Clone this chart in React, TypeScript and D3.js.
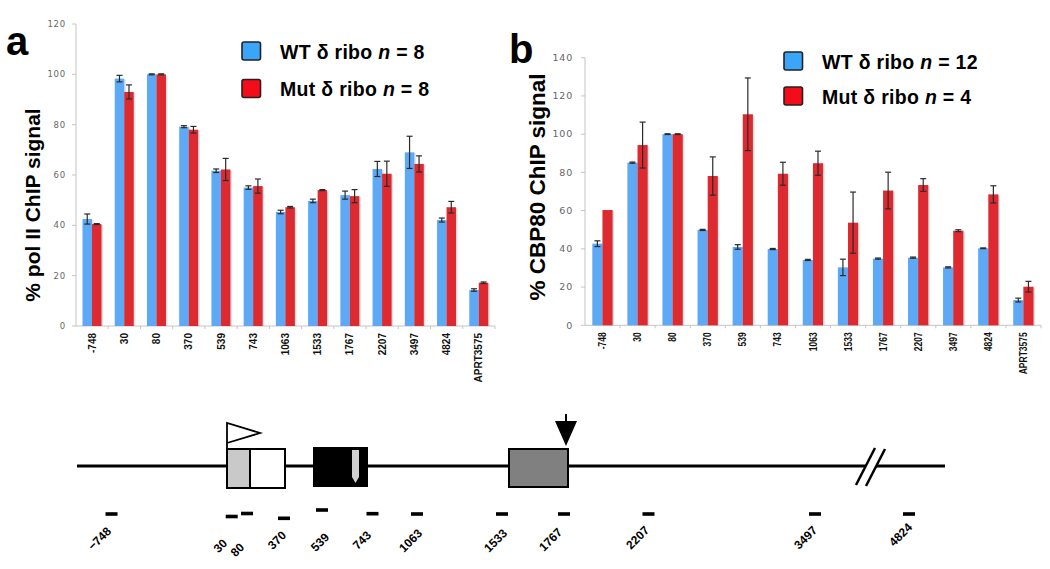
import React from 'react';
import * as d3 from 'd3';

const categories = ['-748', '30', '80', '370', '539', '743', '1063', '1533', '1767', '2207', '3497', '4824', 'APRT3575'];
const polWT = [42.5, 98.3, 100, 79.2, 61.7, 55, 45.3, 49.7, 52, 62.4, 69, 42.1, 14.3];
const polWTErr = [2, 1.3, 0.2, 0.4, 0.7, 0.7, 0.7, 0.7, 1.6, 3, 6.4, 0.8, 0.5];
const polMut = [40.5, 93, 100, 78, 62.2, 55.6, 47.2, 54, 51.6, 60.5, 64.4, 47.2, 17.2];
const polMutErr = [0.2, 2.8, 0.2, 1.3, 4.4, 2.8, 0.3, 0.2, 2.6, 5, 3.2, 2.3, 0.3];
const cbpWT = [42.7, 85.1, 100, 49.9, 41, 39.9, 34.2, 30.3, 34.9, 35.4, 30.3, 40.3, 13.2];
const cbpWTErr = [1.5, 0.3, 0.2, 0.3, 1.2, 0.3, 0.3, 4.3, 0.3, 0.3, 0.3, 0.2, 1];
const cbpMut = [60.3, 94.3, 100, 78.1, 110.4, 79.3, 84.8, 53.7, 70.5, 73.4, 49.5, 68.5, 20.2];
const cbpMutErr = [0, 12, 0.2, 10, 19, 6, 6.3, 16, 9.6, 3.3, 0.5, 4.5, 2.8];
const polTicks = [0, 20, 40, 60, 80, 100, 120];
const cbpTicks = [0, 20, 40, 60, 80, 100, 120, 140];
const polLegend = ['8', '8'];
const cbpLegend = ['12', '4'];
const primerLabels = ['\u2212748', '30', '80', '370', '539', '743', '1063', '1533', '1767', '2207', '3497', '4824'];

const BAR_BLUE = '#5ea9f6';
const BAR_RED = '#dc2a30';
const LEG_BLUE = '#3ba6f8';
const LEG_RED = '#f40d18';
const BOLD = '"Liberation Sans", Arial, sans-serif';

type PanelProps = {
  x0: number; x1: number; yBase: number; yTop: number; max: number; ticks: number[];
  wt: number[]; wtErr: number[]; mut: number[]; mutErr: number[];
  innerStart: number; innerEnd: number; tickFont: number; tickGap: number;
  labelFont: string; labelSize: number; labelStretch: number;
  title: string; titleSize: number; titleX: number; titleY: number;
  letter: string; letterX: number; letterY: number;
  legN: string[]; legX: number; legY: number; legGap: number;
};

function Panel(p: PanelProps) {
  const x = d3.scaleBand<string>().domain(categories).range([p.x0, p.x1]).padding(0);
  const inner = d3.scaleBand<string>().domain(['wt', 'mut']).range([p.innerStart, p.innerEnd]).padding(0);
  const y = d3.scaleLinear().domain([0, p.max]).range([p.yBase, p.yTop]);
  const bw = inner.bandwidth();
  const series = [
    { key: 'wt', vals: p.wt, errs: p.wtErr, color: BAR_BLUE },
    { key: 'mut', vals: p.mut, errs: p.mutErr, color: BAR_RED },
  ];
  return (
    <g>
      <line x1={p.x0} x2={p.x0} y1={y(0)} y2={y(p.max)} stroke="#c4c4c4" strokeWidth={1} />
      {p.ticks.map((t) => (
        <g key={t}>
          <line x1={p.x0 - 4} x2={p.x0} y1={y(t)} y2={y(t)} stroke="#c4c4c4" strokeWidth={1} />
          <text x={p.x0 - p.tickGap} y={y(t)} dy="0.35em" textAnchor="end" fontSize={p.tickFont}
            fontFamily='"DejaVu Sans", Verdana, sans-serif' fill="#666" letterSpacing={0.8}>{t}</text>
        </g>
      ))}
      <line x1={p.x0} x2={p.x1} y1={y(0)} y2={y(0)} stroke="#c4c4c4" strokeWidth={1} />
      {categories.map((c, i) => (
        <line key={'t' + i} x1={(x(c) as number) + x.bandwidth()} x2={(x(c) as number) + x.bandwidth()}
          y1={y(0)} y2={y(0) + 3} stroke="#c4c4c4" strokeWidth={1} />
      ))}
      {series.map((s) => (
        <g key={s.key}>
          {categories.map((c, i) => {
            const bx = (x(c) as number) + (inner(s.key) as number);
            const v = s.vals[i];
            return (
              <g key={c}>
                <rect x={bx + 1.5} y={y(v) + 1} width={bw} height={y(0) - y(v) - 1} fill="#888" opacity={0.25} />
                <rect x={bx} y={y(v)} width={bw} height={y(0) - y(v)} fill={s.color} />
              </g>
            );
          })}
        </g>
      ))}
      {series.map((s) => (
        <g key={'e' + s.key}>
          {categories.map((c, i) => {
            const e = s.errs[i];
            if (e <= 0) return null;
            const cx = (x(c) as number) + (inner(s.key) as number) + bw / 2;
            const v = s.vals[i];
            return (
              <g key={c} stroke="#2a2a2a" strokeWidth={1.2}>
                <line x1={cx} x2={cx} y1={y(v + e)} y2={y(v - e)} />
                <line x1={cx - 3} x2={cx + 3} y1={y(v + e)} y2={y(v + e)} />
                <line x1={cx - 3} x2={cx + 3} y1={y(v - e)} y2={y(v - e)} />
              </g>
            );
          })}
        </g>
      ))}
      {categories.map((c, i) => {
        const cx = (x(c) as number) + x.bandwidth() / 2 + 3.5;
        const ly = y(0) + 7;
        return (
          <text key={'l' + i} x={0} y={0}
            transform={`translate(${cx} ${ly}) rotate(-90) scale(${p.labelStretch} 1)`} textAnchor="end"
            fontSize={p.labelSize} fontWeight="bold" fontFamily={p.labelFont} fill="#111">{c}</text>
        );
      })}
      <text x={p.titleX} y={p.titleY} transform={`rotate(-90 ${p.titleX} ${p.titleY})`} textAnchor="middle"
        fontSize={p.titleSize} fontWeight="bold" fontFamily={BOLD} fill="#000">{p.title}</text>
      <text x={p.letterX} y={p.letterY} fontSize={40} fontWeight="bold" fontFamily={BOLD} fill="#000">{p.letter}</text>
      {[{ n: p.legN[0], name: 'WT', col: LEG_BLUE }, { n: p.legN[1], name: 'Mut', col: LEG_RED }].map((l, i) => (
        <g key={'lg' + i}>
          <rect x={p.legX} y={p.legY + i * p.legGap} width={18.5} height={18} rx={2} fill={l.col} stroke="#222" strokeWidth={1.6} />
          <text x={p.legX + 38} y={p.legY + i * p.legGap + 16.5} fontSize={19.5} fontWeight="bold" fontFamily={BOLD}
            fill="#000" letterSpacing={0.3}>
            {l.name} {'\u03b4'} ribo <tspan fontStyle="italic">n</tspan> = {l.n}
          </text>
        </g>
      ))}
    </g>
  );
}

function GeneDiagram() {
  const lineY = 466;
  const primers = [
    { cx: 111.5, y: 514, lx: 112, ly: 532 },
    { cx: 231.7, y: 516.5, lx: 228, ly: 544 },
    { cx: 247, y: 513.5, lx: 245, ly: 548 },
    { cx: 284, y: 518.3, lx: 287, ly: 536 },
    { cx: 322, y: 510, lx: 330, ly: 538 },
    { cx: 372.5, y: 513.7, lx: 372, ly: 536 },
    { cx: 417, y: 514, lx: 423, ly: 534 },
    { cx: 502, y: 514, lx: 508, ly: 534 },
    { cx: 564, y: 514, lx: 563, ly: 533 },
    { cx: 648.5, y: 514, lx: 650, ly: 531 },
    { cx: 815, y: 514, lx: 818, ly: 531 },
    { cx: 909, y: 514, lx: 913, ly: 528 },
  ];
  return (
    <g>
      <line x1={77} x2={866} y1={lineY} y2={lineY} stroke="#000" strokeWidth={3} />
      <line x1={876} x2={945} y1={lineY} y2={lineY} stroke="#000" strokeWidth={3} />
      <line x1={856} x2={875} y1={485} y2={448} stroke="#000" strokeWidth={2.5} />
      <line x1={866} x2={885} y1={486} y2={449} stroke="#000" strokeWidth={2.5} />
      <rect x={227} y={449} width={23} height={39} fill="#c9c9c9" stroke="#000" strokeWidth={2} />
      <rect x={250} y={449} width={35} height={39} fill="#fff" stroke="#000" strokeWidth={2} />
      <polyline points="227,449 227,423 260,433 227,443" fill="#fff" stroke="#000" strokeWidth={1.8} />
      <rect x={314} y={448} width={53} height={38} fill="#000" stroke="#000" strokeWidth={2} />
      <polygon points="352,450 359,450 359,477 355.5,483 352,477" fill="#d0d0d0" />
      <rect x={509} y={449} width={59} height={38} fill="#808080" stroke="#000" strokeWidth={2} />
      <line x1={566} x2={566} y1={414} y2={423} stroke="#000" strokeWidth={2} />
      <polygon points="555,421 577,421 566,446" fill="#000" />
      {primers.map((p, i) => (
        <g key={i}>
          <rect x={p.cx - 6} y={p.y - 1.8} width={12} height={3.6} fill="#000" />
          <text x={p.lx} y={p.ly} transform={`rotate(-45 ${p.lx} ${p.ly})`} textAnchor="end" fontSize={12}
            fontWeight="bold" fontFamily={BOLD} fill="#000">{primerLabels[i]}</text>
        </g>
      ))}
    </g>
  );
}

export default function App() {
  return (
    <svg width={1050} height={569} style={{ position: 'absolute', left: 0, top: 0, background: '#fff' }}>
      <rect x={0} y={0} width={1050} height={569} fill="#fff" />
      <Panel x0={76} x1={495} yBase={326} yTop={24} max={120} ticks={polTicks}
        wt={polWT} wtErr={polWTErr} mut={polMut} mutErr={polMutErr}
        innerStart={6.5} innerEnd={25.5} tickFont={8.5} tickGap={10}
        labelFont={BOLD} labelSize={10} labelStretch={1}
        title="% pol II ChIP signal" titleSize={21} titleX={40} titleY={205}
        letter="a" letterX={6} letterY={55}
        legN={polLegend} legX={242} legY={42} legGap={37.5} />
      <Panel x0={585} x1={1041} yBase={325.3} yTop={57.7} max={140} ticks={cbpTicks}
        wt={cbpWT} wtErr={cbpWTErr} mut={cbpMut} mutErr={cbpMutErr}
        innerStart={7.3} innerEnd={27.6} tickFont={9.5} tickGap={12}
        labelFont={BOLD} labelSize={10} labelStretch={0.85}
        title="% CBP80 ChIP signal" titleSize={22.5} titleX={545} titleY={187}
        letter="b" letterX={509} letterY={63}
        legN={cbpLegend} legX={784} legY={52} legGap={35} />
      <GeneDiagram />
    </svg>
  );
}
